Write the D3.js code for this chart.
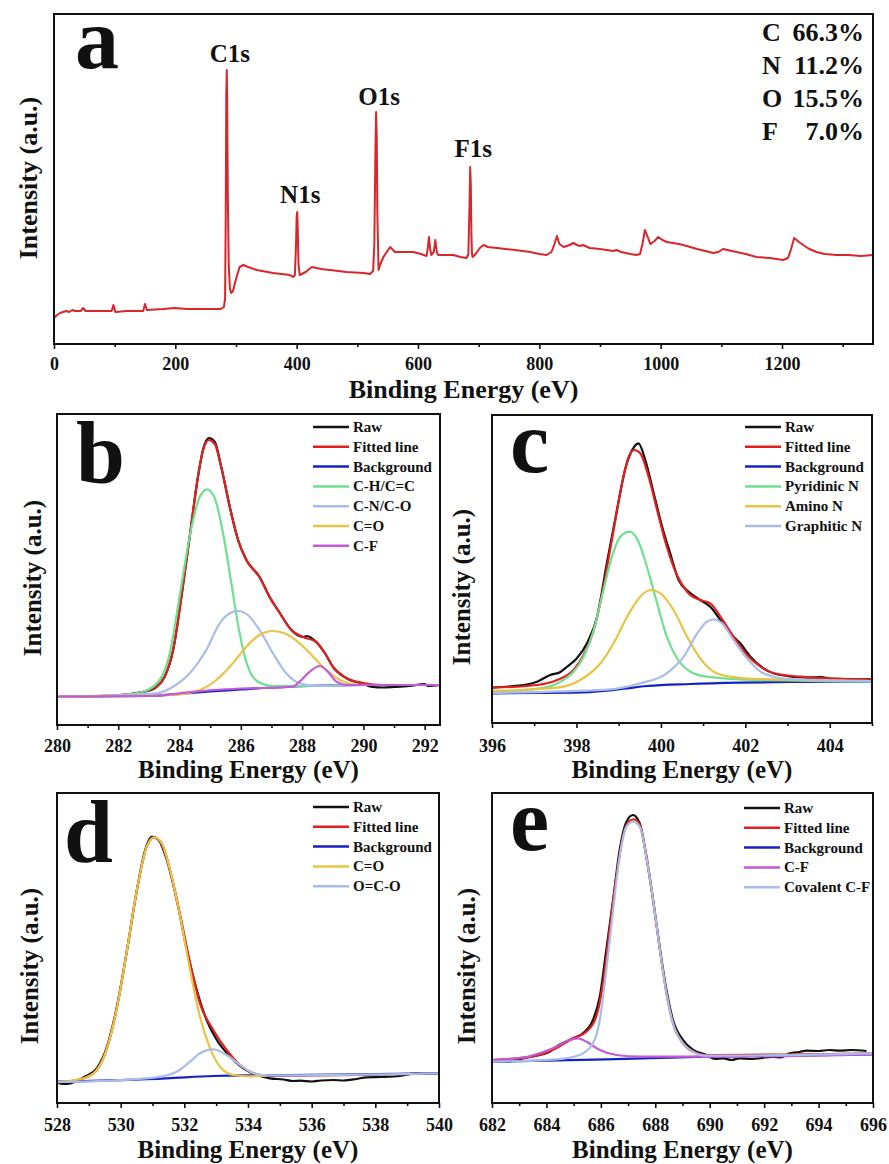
<!DOCTYPE html>
<html>
<head>
<meta charset="utf-8">
<script src="https://cdn.jsdelivr.net/npm/d3@7"></script>
<style>
  body { margin: 0; background: #fff; }
</style>
</head>
<body>
<div id="my_dataviz"></div>
<script>
// ---- data: [binding energy (eV), intensity (a.u.)] ----

// (a) survey spectrum
var surveyData = [[0,26],[5,29],[10,31],[20,33],[25,32],[30,34],[35,33],[44,33],[48,36],[52,33],[70,33],[95,33],[98,39],[101,32],[120,33],[147,33],[150,40],[153,34],[180,35],[198,36],[220,35],[250,35],[275,35],[280,37],[282,45],[283,120],[284,250],[284.8,274],[285.5,240],[286.5,150],[288,80],[290,55],[292,51],[295,53],[300,65],[306,77],[312,79],[320,77],[334,74],[361,71],[389,69],[394,67],[397,69],[399,100],[400,128],[401,132],[402,110],[403,80],[405,69],[415,72],[425,77],[440,75],[455,74],[482,72],[510,71],[521,70],[526,73],[528,100],[530,200],[531,232],[532,205],[533,130],[535,74],[538,80],[543,87],[554,97],[562,92],[580,92],[592,92],[605,90],[614,88],[616,95],[618,107],[620,95],[622,89],[626,92],[628.6,104],[631,92],[633,89],[645,89],[658,89],[670,87],[680,86],[683,90],[685,140],[686,177],[687,160],[688,110],[689,90],[690,87],[695,90],[702,96],[708,99],[715,97],[730,96],[760,94],[785,92],[800,90],[812,89],[820,92],[825,100],[829,108],[833,100],[840,97],[850,99],[856,101],[862,99],[867,98],[872,99],[883,96],[900,95],[922,93],[927,94],[935,92],[950,90],[960,89],[966,90],[970,100],[974,114],[978,108],[983,100],[990,103],[996,107],[1003,104],[1010,102],[1030,100],[1043,98],[1060,95],[1087,91],[1095,92],[1103,95],[1110,94],[1125,92],[1140,90],[1158,87],[1180,86],[1202,84],[1210,86],[1215,95],[1220,106],[1228,102],[1235,99],[1245,95],[1257,92],[1270,90],[1290,89],[1310,89],[1330,88],[1350,89]]
var surveyPeaks = ["C1s", "N1s", "O1s", "F1s"]
var surveyPeakEnergy = [284.8, 401, 531, 686]
var compElements = ["C", "N", "O", "F"]
var compValues = ["66.3%", "11.2%", "15.5%", "7.0%"]

// (b) C1s
var bRaw = [[280,28],[281,28.5],[282.05,30],[282.5,31.5],[282.81,33],[283.24,38],[283.51,48],[283.79,75],[284.06,128],[284.33,188],[284.6,248],[284.77,276],[284.96,287],[285.15,283],[285.36,258],[285.64,218],[285.91,185],[286.18,165],[286.61,148],[286.94,128],[287.27,112],[287.65,95],[288.03,88],[288.15,89],[288.46,83],[288.74,72],[289.01,58],[289.44,47],[289.99,41],[290.3,38],[290.64,37.5],[291,38],[291.5,39],[292,41],[292.1,39],[292.49,40]]
var bFit = [[280,28.3],[282.05,30],[282.81,33.3],[283.24,38.3],[283.51,48.3],[283.79,75],[284.06,128.3],[284.33,188.3],[284.6,248.3],[284.77,275],[284.96,285],[285.15,281],[285.36,258],[285.64,218],[285.91,185],[286.18,165],[286.61,148],[286.94,128],[287.27,112],[287.65,95],[288.03,88],[288.46,83],[288.74,72],[289.01,58],[289.44,47],[289.99,42],[290.64,40],[292.49,40]]
var bBackground = [[280,28.3],[283,29],[284,31],[285,33.5],[286,35.5],[287,37.5],[288,38.8],[289,39.7],[290,40],[292.49,40]]
var bCH = [[280,28.3],[282.05,30],[282.81,33.3],[283.35,45],[283.68,71.7],[284.0,128.3],[284.33,188.3],[284.66,228.3],[284.9,235.7],[285.15,226.7],[285.42,191.7],[285.69,141.7],[285.96,91.7],[286.23,58.3],[286.56,43.3],[287.05,39],[288,39],[290,40],[292.49,40]]
var bCN = [[280,28.3],[283.24,31.7],[283.79,38.3],[284.33,51.7],[284.87,75],[285.31,101.7],[285.64,111.7],[285.91,114],[286.23,110],[286.61,95],[287.05,71.7],[287.48,51.7],[287.92,41.7],[288.46,39],[290,40],[292.49,40]]
var bCO = [[280,28.3],[283.79,30],[284.66,35],[285.2,45],[285.74,61.7],[286.18,78.3],[286.61,90],[287.05,94],[287.48,91],[287.92,81.7],[288.36,68.3],[288.79,55],[289.23,45],[289.66,40.7],[290.1,40],[292.49,40]]
var bCF = [[280,28.3],[283,29],[284,31.7],[285.1,35],[286,36.5],[287.38,37.7],[287.7,38.5],[287.92,43.3],[288.25,53.3],[288.57,59],[288.84,53.3],[289.12,43.3],[289.44,40],[292.49,40]]
var bLabels = ["Raw", "Fitted line", "Background", "C-H/C=C", "C-N/C-O", "C=O", "C-F"]

// (c) N1s
var cRaw = [[396,35.3],[396.4,36.5],[396.75,38],[397.07,41.3],[397.38,48],[397.62,51],[397.78,56.3],[398.01,64.7],[398.25,79.7],[398.49,106.3],[398.72,159.7],[398.96,213],[399.16,254.7],[399.32,273],[399.47,279.7],[399.63,263],[399.83,229.7],[400.03,196.3],[400.22,169.7],[400.42,143],[400.66,131.3],[400.93,123],[401.17,116.3],[401.41,103],[401.64,89.7],[401.88,79.7],[402.12,66.3],[402.43,54.7],[402.83,48],[403.46,45.3],[403.8,46],[404,44.5],[405,43.7]]
var cFit = [[396,35.3],[397.07,38],[397.54,43],[397.93,53],[398.17,68],[398.41,93],[398.64,136.3],[398.88,193],[399.08,239.7],[399.24,266.3],[399.37,273],[399.51,269.7],[399.71,246.3],[399.91,213],[400.14,176.3],[400.38,148],[400.62,131.3],[400.93,123],[401.17,119.7],[401.41,106.3],[401.72,86.3],[402.04,68],[402.36,56.3],[402.67,49.7],[403.3,46.3],[405,43]]
var cBackground = [[396,29.7],[397.93,30.3],[398.72,32.3],[399.2,34.7],[399.67,37],[400.7,39],[401.88,40.3],[403,41],[405,41.3]]
var cPyridinic = [[396,31.3],[397.14,34.7],[397.62,41.3],[397.93,51.3],[398.17,66.3],[398.41,93],[398.64,133],[398.84,166.3],[399.04,186.3],[399.26,191.3],[399.47,181.3],[399.67,156.3],[399.91,119.7],[400.14,86.3],[400.38,64.7],[400.7,51.3],[401.09,46.3],[401.88,43.7],[405,41.3]]
var cAmino = [[396,32],[397.54,35.3],[398.09,43],[398.57,59.7],[398.88,79.7],[399.2,106.3],[399.51,126.3],[399.75,133],[399.99,129.7],[400.3,113],[400.62,86.3],[400.93,64.7],[401.25,51.3],[401.64,46.3],[402.28,44],[405,42]]
var cGraphitic = [[396,30],[398.72,33.3],[399.51,39.7],[400.14,49.7],[400.54,66.3],[400.86,89.7],[401.09,101.3],[401.25,103.7],[401.45,99.7],[401.72,83],[402.04,64.7],[402.36,51.3],[402.67,46.3],[403.14,43.7],[405,42]]
var cLabels = ["Raw", "Fitted line", "Background", "Pyridinic N", "Amino N", "Graphitic N"]

// (d) O1s
var dRaw = [[528,20.3],[528.2,19],[528.42,19.7],[528.6,21.5],[528.84,25.7],[529.25,34.7],[529.57,56.3],[529.88,96.3],[530.2,153],[530.51,213],[530.77,253],[530.98,266.3],[531.19,263],[531.45,243],[531.76,203],[532.08,153],[532.39,113],[532.7,83],[533.02,63],[533.44,46.3],[533.85,34.7],[534.27,28],[534.69,24.7],[535.11,23.5],[535.4,22],[535.63,22.3],[536,21.5],[536.3,22.5],[536.68,23],[537,22.5],[537.4,24],[537.72,25.7],[538.2,26],[538.77,27],[539.29,29.7],[539.6,29],[540,30]]
var dFit = [[528,20.3],[528.84,24.7],[529.25,33],[529.57,54.7],[529.88,94.7],[530.2,153],[530.51,213],[530.82,256.3],[531.05,265.7],[531.29,259.7],[531.55,233],[531.87,188],[532.18,140],[532.49,99.7],[532.91,73],[533.33,53],[533.75,38],[534.17,29.7],[534.59,27.3],[540,29.7]]
var dBackground = [[528,21.3],[531.45,24.7],[532.91,27],[534.59,27.7],[540,29.7]]
var dCO = [[528,21],[528.84,24.7],[529.25,33],[529.57,54.7],[529.88,94.7],[530.2,153],[530.51,213],[530.82,256.3],[531.05,265.7],[531.29,259.7],[531.55,233],[531.87,186.3],[532.18,133],[532.49,86.3],[532.81,54.7],[533.12,36.3],[533.54,28],[534.06,26.7],[534.59,27.3]]
var dOCO = [[528,21],[530.4,23.7],[531.24,26.3],[531.76,31.3],[532.18,41.3],[532.49,49.7],[532.91,53.7],[533.33,48],[533.75,38],[534.17,29.7],[534.59,27.7],[540,29.7]]
var dLabels = ["Raw", "Fitted line", "Background", "C=O", "O=C-O"]

// (e) F1s
var eRaw = [[682,41.3],[682.5,41],[683.14,44.7],[683.75,48],[684.1,51],[684.36,56.3],[684.98,64.7],[685.34,69.7],[685.71,83],[685.96,106.3],[686.2,153],[686.45,203],[686.69,253],[686.94,281.3],[687.18,288],[687.43,279.7],[687.67,246.3],[687.92,203],[688.16,156.3],[688.41,113],[688.65,83],[689.02,63],[689.39,53],[689.88,48],[690.2,44],[690.49,44.7],[690.8,43],[691.1,44.7],[691.5,44],[692.33,46],[692.6,45.5],[692.94,49.7],[693.3,51],[693.55,52.3],[694,52],[694.4,53],[694.78,52.3],[695.2,53],[695.76,52]]
var eFit = [[682,43],[683.14,45.3],[683.75,48],[684.36,54.7],[684.98,64.7],[685.47,71.3],[685.83,86.3],[686.08,119.7],[686.32,173],[686.57,226.3],[686.81,266.3],[687.06,282.3],[687.22,283.7],[687.43,278],[687.67,248],[687.92,203],[688.16,154.7],[688.41,109.7],[688.65,79.7],[689.02,59.7],[689.39,51.3],[689.88,48],[696,49.7]]
var eBackground = [[682,41.3],[686.2,43.7],[689.88,46.3],[696,48.7]]
var eCF = [[682,43],[683.14,45.3],[683.75,49.7],[684.36,56.3],[684.85,63],[685.16,64.7],[685.47,61.3],[685.96,53],[686.57,48],[687.43,46.3],[689.88,46.3],[696,48.7]]
var eCovalent = [[682,41.3],[684.36,43.7],[685.22,48],[685.71,59.7],[685.96,83],[686.2,133],[686.45,193],[686.69,246.3],[686.94,276.3],[687.18,281.3],[687.43,276.3],[687.67,246.3],[687.92,203],[688.16,154.7],[688.41,109.7],[688.65,79.7],[689.02,59.7],[689.39,51.3],[689.88,47.3],[696,49.7]]
var eLabels = ["Raw", "Fitted line", "Background", "C-F", "Covalent C-F"]

// colours
var cRawCol = "#111111", cFitCol = "#e0201e", cBgCol = "#1422c4"
var cGreen = "#6ee08e", cLBlue = "#a9bde8", cYellow = "#e8c444", cMag = "#c35ad8"
var serif = "Liberation Serif"

// ---- svg ----
var width = 889
var height = 1164

var svg = d3.select("#my_dataviz")
    .append("svg")
    .attr("width", width)
    .attr("height", height)
    .attr("font-family", serif)
    .attr("font-weight", "bold")

// helper: bold serif text
function label(sel, x, y, size, txt) {
    return sel.append("text")
        .attr("x", x).attr("y", y)
        .attr("font-family", serif).attr("font-weight", "bold")
        .attr("font-size", size).attr("fill", "#111")
        .text(txt)
}

function drawPanel(p) {
    var x = d3.scaleLinear().domain(p.xDomain).range([p.left, p.right])
    var y = d3.scaleLinear().domain([0, p.yMax]).range([p.bottom, p.top])
    var g = svg.append("g")

    var clipId = "clip-" + p.letter
    g.append("clipPath").attr("id", clipId)
        .append("rect")
        .attr("x", p.left).attr("y", p.top)
        .attr("width", p.right - p.left).attr("height", p.bottom - p.top)

    var line = d3.line()
        .x(function(d) { return x(d[0]) })
        .y(function(d) { return y(d[1]) })
        .curve(p.curve)

    p.series.forEach(function(s) {
        g.append("path")
            .datum(s.data)
            .attr("d", line)
            .attr("clip-path", "url(#" + clipId + ")")
            .style("fill", "none")
            .style("stroke", s.color)
            .style("stroke-width", p.lw)
            .style("stroke-linejoin", "round")
    })

    // minor + major ticks along the bottom
    var minorAxis = g.append("g")
        .attr("transform", "translate(0," + p.bottom + ")")
        .call(d3.axisBottom(x).tickValues(p.minor).tickSize(3).tickFormat(""))
    var majorAxis = g.append("g")
        .attr("transform", "translate(0," + p.bottom + ")")
        .call(d3.axisBottom(x).tickValues(p.major).tickSize(5).tickPadding(p.pad).tickFormat(d3.format("d")))
    minorAxis.select(".domain").remove()
    majorAxis.select(".domain").remove()
    majorAxis.attr("font-family", serif).attr("font-size", 18).attr("font-weight", "bold")
    g.selectAll(".tick line").style("stroke", "#111").style("stroke-width", 1.6)
    majorAxis.selectAll("text").attr("fill", "#111")

    // frame
    g.append("rect")
        .attr("x", p.left).attr("y", p.top)
        .attr("width", p.right - p.left).attr("height", p.bottom - p.top)
        .style("fill", "none").style("stroke", "#111").style("stroke-width", 2)

    // axis titles
    label(g, (p.left + p.right) / 2, p.xTitleY, p.titleSize, "Binding Energy (eV)")
        .attr("text-anchor", "middle")
    label(g, 0, 0, p.titleSize, "Intensity (a.u.)")
        .attr("transform", "translate(" + p.yTitleX + "," + p.yTitleY + ") rotate(-90)")
        .attr("text-anchor", "middle")

    // panel letter
    label(g, p.letterX, p.letterY, 88, p.letter)

    // legend
    if (p.legend) {
        p.legend.forEach(function(l, i) {
            var ly = p.legY + i * 19.8
            g.append("line")
                .attr("x1", p.legX).attr("x2", p.legX + 36)
                .attr("y1", ly).attr("y2", ly)
                .style("stroke", l.color).style("stroke-width", 2.5)
            label(g, p.legX + 40, ly, 15, l.label).attr("dy", "0.33em")
        })
    }
    return { g: g, x: x, y: y }
}

// (a) survey
var pa = drawPanel({
    letter: "a", left: 54, right: 873, top: 14, bottom: 344, yMax: 330,
    xDomain: [0, 1350], major: d3.range(0, 1201, 200), minor: d3.range(100, 1301, 200),
    pad: 8, curve: d3.curveLinear, lw: 2,
    series: [{ data: surveyData, color: "#d9262b" }],
    xTitleY: 398, yTitleX: 37, yTitleY: 178, titleSize: 26,
    letterX: 75, letterY: 68
})
// peak labels
var peakLabelY = [62, 203, 105, 157]
surveyPeaks.forEach(function(name, i) {
    label(pa.g, pa.x(surveyPeakEnergy[i]) + 3, peakLabelY[i], 25, name)
        .attr("text-anchor", "middle")
})
// composition
compElements.forEach(function(el, i) {
    var ty = 41 + i * 33
    label(pa.g, 762, ty, 26, el)
    label(pa.g, 864, ty, 26, compValues[i]).attr("text-anchor", "end")
})

// (b) C1s
drawPanel({
    letter: "b", left: 57, right: 440, top: 414, bottom: 725, yMax: 311,
    xDomain: [280, 292.5], major: d3.range(280, 293, 2), minor: d3.range(281, 293, 2),
    pad: 9, curve: d3.curveMonotoneX, lw: 2.2,
    series: [
        { data: bRaw, color: cRawCol }, { data: bFit, color: cFitCol },
        { data: bBackground, color: cBgCol }, { data: bCH, color: cGreen },
        { data: bCN, color: cLBlue }, { data: bCO, color: cYellow }, { data: bCF, color: cMag }
    ],
    xTitleY: 778, yTitleX: 41, yTitleY: 578, titleSize: 25,
    letterX: 76, letterY: 483,
    legX: 313, legY: 427,
    legend: bLabels.map(function(l, i) { return { label: l, color: [cRawCol, cFitCol, cBgCol, cGreen, cLBlue, cYellow, cMag][i] } })
})

// (c) N1s
drawPanel({
    letter: "c", left: 492, right: 872, top: 415, bottom: 723, yMax: 308,
    xDomain: [396, 405], major: d3.range(396, 405, 2), minor: d3.range(397, 406, 2),
    pad: 11, curve: d3.curveMonotoneX, lw: 2.2,
    series: [
        { data: cRaw, color: cRawCol }, { data: cFit, color: cFitCol },
        { data: cBackground, color: cBgCol }, { data: cPyridinic, color: cGreen },
        { data: cAmino, color: cYellow }, { data: cGraphitic, color: cLBlue }
    ],
    xTitleY: 778, yTitleX: 470, yTitleY: 587, titleSize: 25,
    letterX: 510, letterY: 472,
    legX: 745, legY: 427,
    legend: cLabels.map(function(l, i) { return { label: l, color: [cRawCol, cFitCol, cBgCol, cGreen, cYellow, cLBlue][i] } })
})

// (d) O1s
drawPanel({
    letter: "d", left: 57, right: 439, top: 793, bottom: 1103, yMax: 310,
    xDomain: [528, 540], major: d3.range(528, 541, 2), minor: d3.range(529, 540, 2),
    pad: 10, curve: d3.curveMonotoneX, lw: 2.2,
    series: [
        { data: dRaw, color: cRawCol }, { data: dFit, color: cFitCol },
        { data: dBackground, color: cBgCol }, { data: dCO, color: cYellow },
        { data: dOCO, color: cLBlue }
    ],
    xTitleY: 1158, yTitleX: 38, yTitleY: 966, titleSize: 25,
    letterX: 64, letterY: 862,
    legX: 313, legY: 807,
    legend: dLabels.map(function(l, i) { return { label: l, color: [cRawCol, cFitCol, cBgCol, cYellow, cLBlue][i] } })
})

// (e) F1s
drawPanel({
    letter: "e", left: 492, right: 873, top: 793, bottom: 1103, yMax: 310,
    xDomain: [682, 696], major: d3.range(682, 697, 2), minor: d3.range(683, 696, 2),
    pad: 10, curve: d3.curveMonotoneX, lw: 2.2,
    series: [
        { data: eRaw, color: cRawCol }, { data: eFit, color: cFitCol },
        { data: eBackground, color: cBgCol }, { data: eCF, color: cMag },
        { data: eCovalent, color: cLBlue }
    ],
    xTitleY: 1158, yTitleX: 475, yTitleY: 966, titleSize: 25,
    letterX: 510, letterY: 850,
    legX: 744, legY: 808,
    legend: eLabels.map(function(l, i) { return { label: l, color: [cRawCol, cFitCol, cBgCol, cMag, cLBlue][i] } })
})
</script>
</body>
</html>
